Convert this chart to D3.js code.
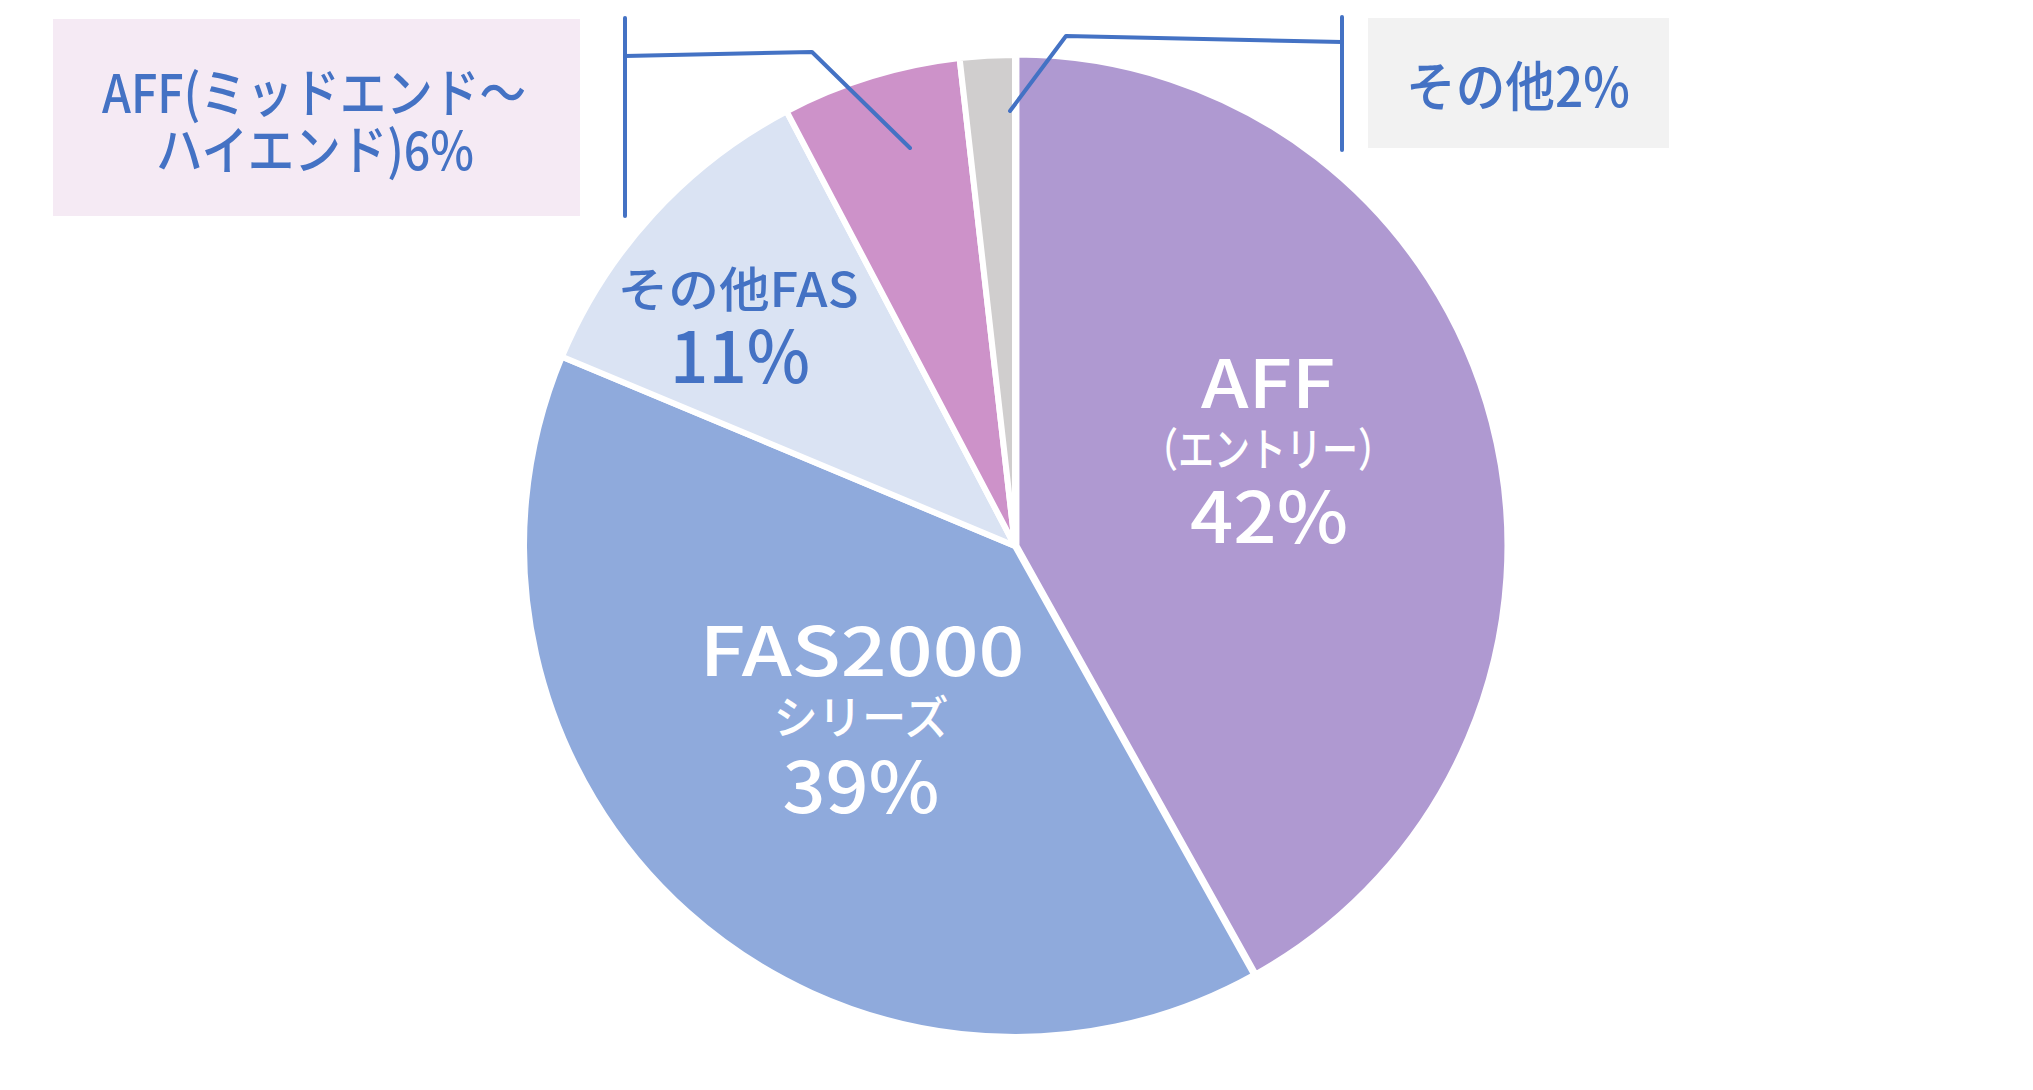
<!DOCTYPE html>
<html><head><meta charset="utf-8">
<script src="https://cdn.jsdelivr.net/npm/d3@7"></script>
<style>html,body{margin:0;padding:0;background:#fff;}svg{display:block;}</style>
</head><body>
<svg id="chart" width="2033" height="1090"></svg>
<script>
// ---- data ----
const categories = ["AFF（エントリー）", "FAS2000シリーズ", "その他FAS", "AFF(ミッドエンド～ハイエンド)", "その他"];
const values = [41.9, 39.4, 11.0, 5.9, 1.8];
const percentLabels = ["42%", "39%", "11%", "6%", "2%"];

// ---- layout / style ----
const W = 2033, H = 1090;
const cx = 1015, cy = 546, R = 491;
const colors = ["#AF99D1", "#8FAADC", "#DAE3F3", "#CD92C9", "#D0CECE"];
const blue = "#4472C4";
const FONT = "'Noto Sans CJK JP', 'Noto Sans', sans-serif";

const svg = d3.select("#chart");
const pie = d3.pie().sort(null).value(d => d)(values);
const arc = d3.arc().innerRadius(0).outerRadius(R);

const g = svg.append("g").attr("transform", `translate(${cx},${cy})`);
g.selectAll("path.slice").data(pie).join("path")
  .attr("class", "slice")
  .attr("d", arc)
  .attr("fill", (d, i) => colors[i])
  .attr("stroke", "#fff")
  .attr("stroke-width", 6)
  .attr("stroke-linejoin", "round")
  .attr("transform", (d, i) => {
    if (i !== 0) return null;
    const a = (d.startAngle + d.endAngle) / 2, off = 1.5;
    return `translate(${Math.sin(a) * off},${-Math.cos(a) * off})`;
  });

// multi-line label: one <text> with a <tspan> per line
function label(sel, fill, lines) {
  const t = sel.append("text")
    .attr("text-anchor", "middle")
    .attr("font-family", FONT)
    .attr("fill", fill);
  lines.forEach(l => {
    t.append("tspan")
      .attr("x", l.x).attr("y", l.y)
      .attr("font-size", l.size)
      .attr("font-weight", l.weight || 500)
      .attr("textLength", l.len)
      .attr("lengthAdjust", "spacingAndGlyphs")
      .text(l.text);
  });
}

// ---- in-slice labels ----
const L = svg.append("g");
label(L, "#fff", [
  {x: 1268, y: 408, text: "AFF", size: 66, len: 134},
  {x: 1268, y: 466, text: "（エントリー）", size: 46, len: 252},
  {x: 1269, y: 543, text: percentLabels[0], size: 70, len: 158}
]);
label(L, "#fff", [
  {x: 862, y: 676, text: "FAS2000", size: 68, len: 325},
  {x: 861, y: 734, text: "シリーズ", size: 46, len: 175},
  {x: 861, y: 813, text: percentLabels[1], size: 70, len: 157}
]);
label(L, blue, [
  {x: 738, y: 307, text: "その他FAS", size: 48, len: 241},
  {x: 740, y: 383, text: percentLabels[2], size: 72, len: 140}
]);

// ---- callout boxes ----
svg.append("rect").attr("x", 53).attr("y", 19).attr("width", 527).attr("height", 197).attr("fill", "#F5EAF4");
label(svg, blue, [
  {x: 314, y: 113, text: "AFF(ミッドエンド～", size: 53, len: 424},
  {x: 315, y: 170, text: "ハイエンド)" + percentLabels[3], size: 53, len: 318}
]);

svg.append("rect").attr("x", 1368).attr("y", 18).attr("width", 301).attr("height", 130).attr("fill", "#F2F2F2");
label(svg, blue, [
  {x: 1518, y: 107, text: "その他" + percentLabels[4], size: 54, len: 224}
]);

// ---- leader lines ----
const lead = svg.append("g").attr("fill", "none").attr("stroke", blue).attr("stroke-width", 4).attr("stroke-linecap", "round").attr("stroke-linejoin", "round");
lead.append("path").attr("d", "M625,18 L625,216");
lead.append("path").attr("d", "M625,56 L812,52 L910,148");
lead.append("path").attr("d", "M1342,17 L1342,150");
lead.append("path").attr("d", "M1342,42 L1066,36 L1010,111");
</script>
</body></html>
